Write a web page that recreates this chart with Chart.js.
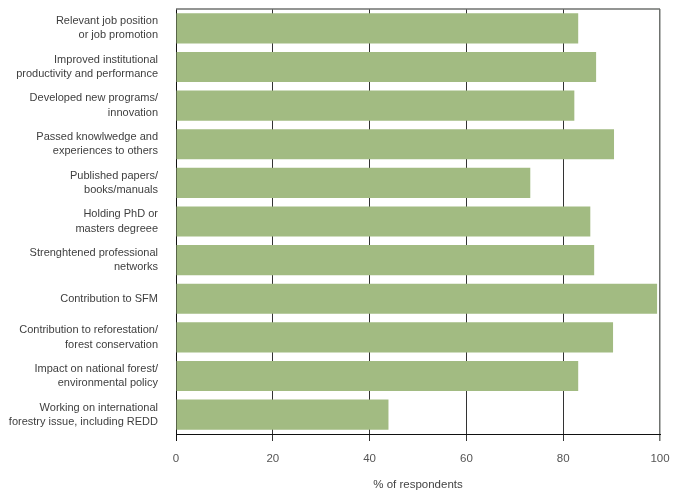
<!DOCTYPE html>
<html>
<head>
<meta charset="utf-8">
<script src="https://cdn.jsdelivr.net/npm/chart.js@4"></script>
<style>
  html, body { margin: 0; padding: 0; background: #fff; }
  #wrap { width: 684px; height: 492px; }
</style>
</head>
<body>
<div id="wrap"><canvas id="chartImpactos"></canvas></div>
<script>
var categorias = [
    ['Relevant job position', 'or job promotion'],
    ['Improved institutional', 'productivity and performance'],
    ['Developed new programs/', 'innovation'],
    ['Passed knowlwedge and', 'experiences to others'],
    ['Published papers/', 'books/manuals'],
    ['Holding PhD or', 'masters degreee'],
    ['Strenghtened professional', 'networks'],
    'Contribution to SFM',
    ['Contribution to reforestation/', 'forest conservation'],
    ['Impact on national forest/', 'environmental policy'],
    ['Working on international', 'forestry issue, including REDD']
];
var porcentajes = [83.1, 86.8, 82.3, 90.5, 73.2, 85.6, 86.4, 99.4, 90.3, 83.1, 43.9];
var ticksX = [0, 20, 40, 60, 80, 100];
var tituloX = '% of respondents';

var fuente = '"Liberation Sans", Arial, sans-serif';

// linea superior del marco
var bordeSuperior = {
    id: 'bordeSuperior',
    afterDraw: function (chart) {
        var a = chart.chartArea, ctx = chart.ctx;
        ctx.save();
        ctx.strokeStyle = '#6f726f';
        ctx.lineWidth = 1.5;
        ctx.beginPath();
        ctx.moveTo(a.left, a.top);
        ctx.lineTo(a.right, a.top);
        ctx.stroke();
        ctx.restore();
    }
};

new Chart(document.getElementById('chartImpactos'), {
    type: 'bar',
    data: {
        labels: categorias,
        datasets: [{
            data: porcentajes,
            backgroundColor: '#a2bb82',
            borderWidth: 0,
            barPercentage: 0.78,
            categoryPercentage: 1
        }]
    },
    options: {
        indexAxis: 'y',
        responsive: true,
        maintainAspectRatio: false,
        animation: false,
        layout: { padding: { top: 9, right: 24, left: 0, bottom: 0 } },
        plugins: { legend: { display: false }, tooltip: { enabled: false } },
        scales: {
            x: {
                min: 0, max: 100,
                afterBuildTicks: function (s) { s.ticks = ticksX.map(function (v) { return { value: v }; }); },
                afterFit: function (s) { s.height = 58; s.paddingLeft = 0; s.paddingRight = 0; },
                grid: {
                    color: function (c) { return c.tick.value === 0 ? '#111' : (c.tick.value === 100 ? '#6f726f' : '#333'); },
                    lineWidth: function (c) { return c.tick.value === 100 ? 1.5 : 1; },
                    tickLength: 7,
                    drawTicks: true
                },
                border: { display: true, color: '#111', width: 1 },
                ticks: { color: '#555', padding: 11, font: { family: fuente, size: 11.5 } },
                title: { display: true, text: tituloX, color: '#444', padding: { top: 9, bottom: 0 }, font: { family: fuente, size: 11.5 } }
            },
            y: {
                afterFit: function (s) { s.width = 176; s.paddingTop = 0; s.paddingBottom = 0; },
                grid: { display: false, drawTicks: false },
                border: { display: true, color: '#111', width: 1 },
                ticks: { color: '#3e3e3e', padding: 18, font: { family: fuente, size: 11, lineHeight: 1.3 } }
            }
        }
    },
    plugins: [bordeSuperior]
});
</script>
</body>
</html>
